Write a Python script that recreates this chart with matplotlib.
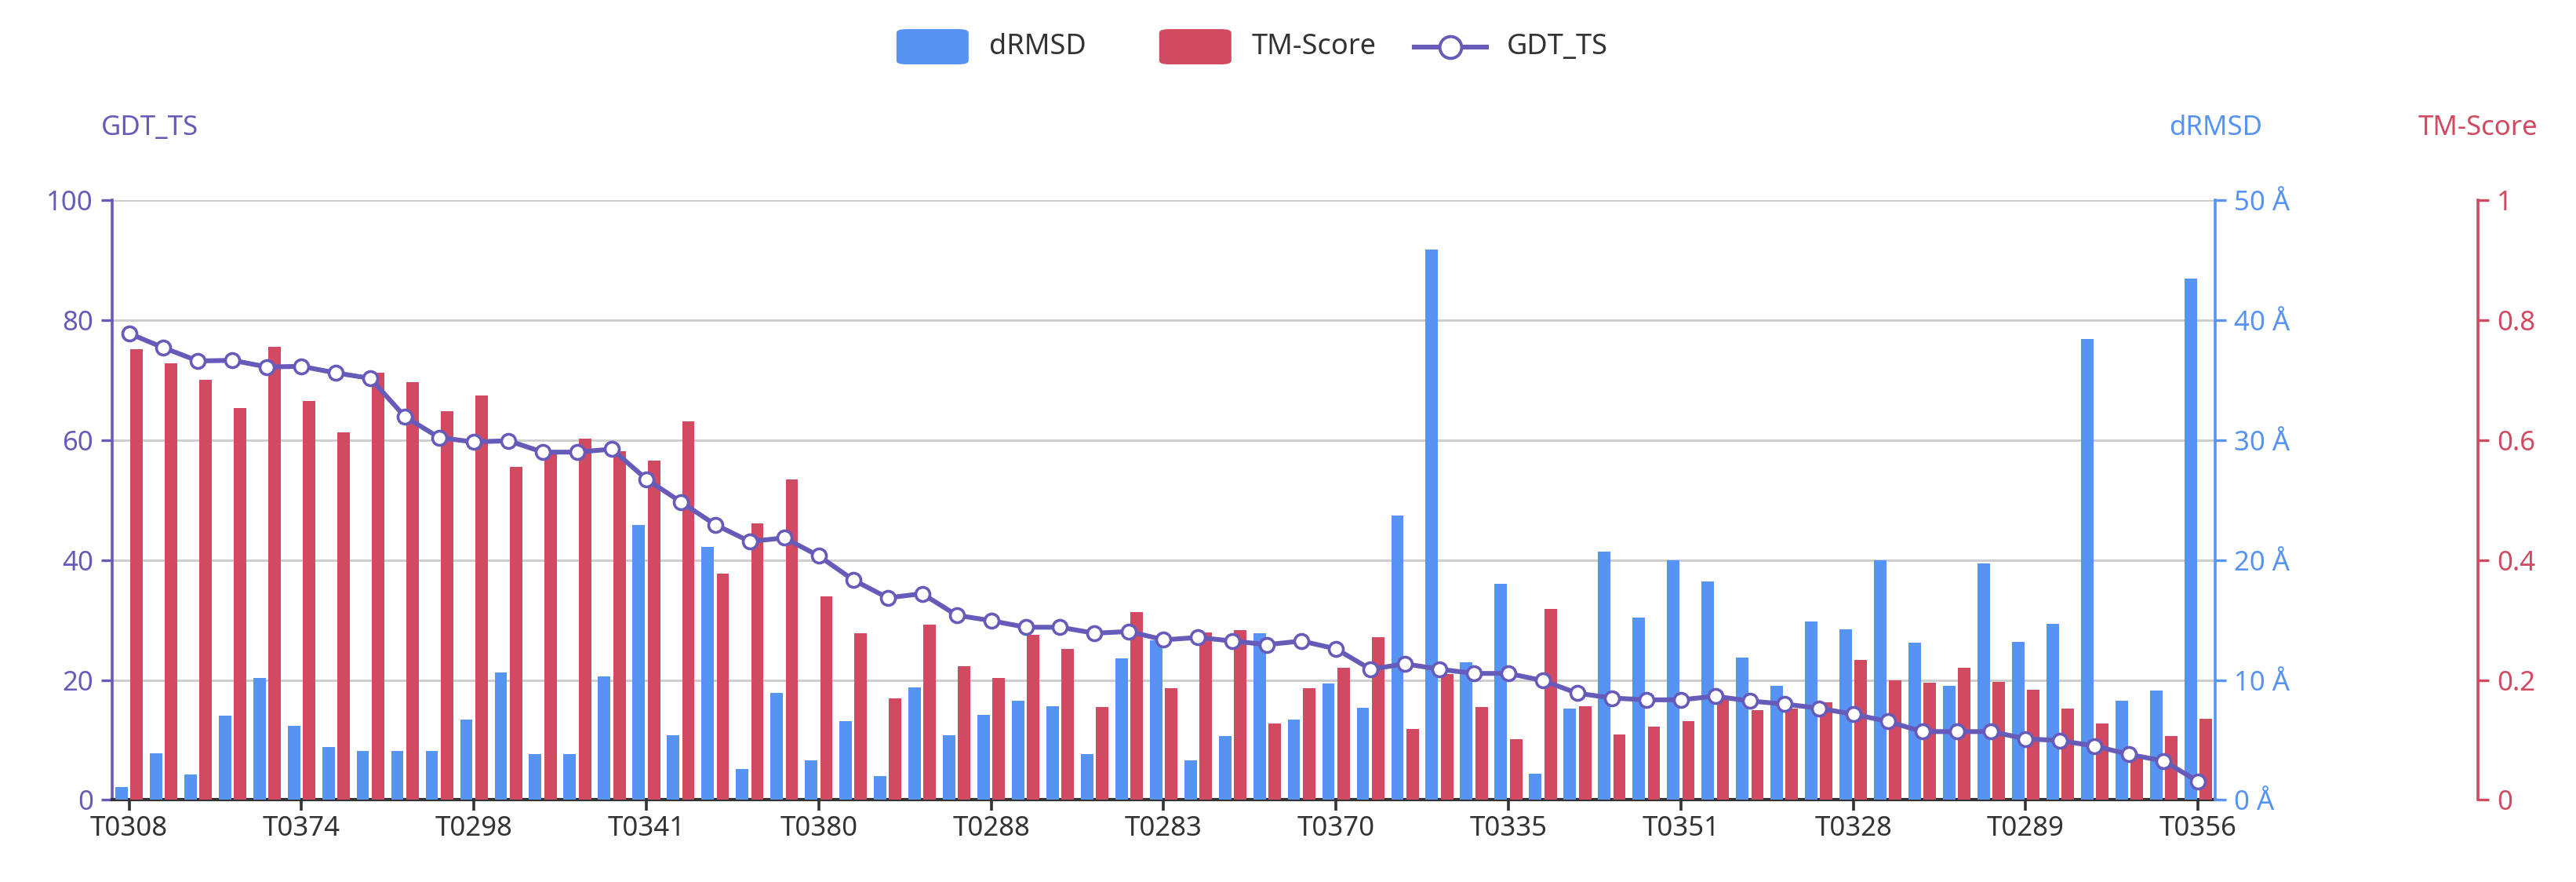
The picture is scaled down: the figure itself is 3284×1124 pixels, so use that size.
import matplotlib.pyplot as plt
import numpy as np
from matplotlib.patches import FancyBboxPatch
from matplotlib.lines import Line2D

plt.rcParams["font.family"] = ["Noto Sans", "DejaVu Sans"]

BLUE = "#5793f3"
RED = "#d14a61"
PURPLE = "#675bba"

shown_labels = ["T0308", "T0374", "T0298", "T0341", "T0380", "T0288", "T0283",
                "T0370", "T0335", "T0351", "T0328", "T0289", "T0356"]
targets = []
for i in range(61):
    targets.append(shown_labels[i // 5] if i % 5 == 0 else "")

drmsd = [1.05, 3.9, 2.1, 7.0, 10.2, 6.2, 4.4, 4.1, 4.1, 4.1, 6.7, 10.6, 3.8, 3.8, 10.3, 22.9,
         5.4, 21.1, 2.6, 8.9, 3.3, 6.6, 2.0, 9.4, 5.4, 7.1, 8.3, 7.8, 3.8, 11.8, 13.3,
         3.3, 5.3, 13.9, 6.7, 9.7, 7.7, 23.7, 45.9, 11.5, 18.0, 2.2, 7.6, 20.7, 15.2, 20.0,
         18.2, 11.9, 9.5, 14.9, 14.2, 20.0, 13.1, 9.5, 19.7, 13.2, 14.7, 38.4, 8.3, 9.1, 43.5]
tm_score = [0.752, 0.728, 0.701, 0.654, 0.755, 0.665, 0.613, 0.713, 0.697, 0.648, 0.675,
            0.555, 0.58, 0.603, 0.582, 0.566,
            0.631, 0.378, 0.461, 0.535, 0.340, 0.278, 0.170, 0.293, 0.223, 0.204, 0.276,
            0.252, 0.155, 0.313, 0.187,
            0.279, 0.283, 0.128, 0.186, 0.220, 0.271, 0.119, 0.210, 0.155, 0.101, 0.318,
            0.156, 0.109, 0.122, 0.131,
            0.169, 0.150, 0.152, 0.163, 0.233, 0.199, 0.196, 0.220, 0.197, 0.184, 0.153,
            0.128, 0.073, 0.106, 0.136]
gdt_ts = [77.8, 75.4, 73.2, 73.3, 72.2, 72.3, 71.2, 70.3, 63.9, 60.4, 59.7, 59.9, 58.0,
          58.0, 58.5, 53.5,
          49.7, 45.9, 43.1, 43.7, 40.7, 36.7, 33.7, 34.4, 30.8, 29.9, 28.8, 28.8, 27.8,
          28.1, 26.7,
          27.1, 26.5, 25.9, 26.5, 25.2, 21.8, 22.7, 21.8, 21.1, 21.1, 19.9, 17.8, 17.0,
          16.7, 16.7,
          17.3, 16.5, 16.0, 15.3, 14.3, 13.1, 11.4, 11.4, 11.4, 10.2, 9.9, 9.0, 7.6, 6.5, 3.1]

x = np.arange(len(targets))

fig = plt.figure(figsize=(16.42, 5.62), dpi=200)
ax = fig.add_axes([0.0434, 0.093, 0.8166, 0.68])
ax_d = ax.twinx()
ax_t = ax.twinx()
ax_t.spines["right"].set_position(("axes", 1.125))

# bars on the right axes, line on top
ax_d.bar(x - 0.22, drmsd, width=0.36, color=BLUE, zorder=2)
ax_t.bar(x + 0.22, tm_score, width=0.36, color=RED, zorder=2)
ax_line = ax.twinx()
ax_line.set_ylim(0, 100)
ax_line.axis("off")
ax_line.plot(x, gdt_ts, color=PURPLE, lw=2.2, marker="o", ms=6.5,
             markerfacecolor="white", markeredgecolor=PURPLE, markeredgewidth=1.3)

ax.set_xlim(-0.5, len(targets) - 0.5)
ax.set_ylim(0, 100)
ax.set_yticks(range(0, 101, 20))
ax.grid(axis="y", color="#cccccc", lw=1)
ax.set_axisbelow(True)
ax.set_xticks(x[::5])
ax.set_xticklabels(shown_labels, fontsize=12.5, color="#333333")
ax.tick_params(axis="x", length=5, width=1.3, color="#333333", pad=2)
ax.tick_params(axis="y", colors=PURPLE, labelsize=12.5, length=5, width=1.2)

ax_d.set_ylim(0, 50)
ax_d.set_yticks(range(0, 51, 10))
ax_d.set_yticklabels([f"{v} Å" for v in range(0, 51, 10)])
ax_d.tick_params(axis="y", colors=BLUE, labelsize=12.5, length=5, width=1.2)

ax_t.set_ylim(0, 1)
ax_t.set_yticks([0, 0.2, 0.4, 0.6, 0.8, 1])
ax_t.set_yticklabels(["0", "0.2", "0.4", "0.6", "0.8", "1"])
ax_t.tick_params(axis="y", colors=RED, labelsize=12.5, length=5, width=1.2)

for a in (ax, ax_d, ax_t, ax_line):
    a.spines["top"].set_visible(False)
ax.spines["right"].set_visible(False)
ax.spines["left"].set_color(PURPLE)
ax.spines["left"].set_linewidth(1.3)
ax.spines["bottom"].set_color("#333333")
ax.spines["bottom"].set_linewidth(1.5)
for a in (ax_d, ax_t):
    a.spines["left"].set_visible(False)
    a.spines["bottom"].set_visible(False)
ax_d.spines["right"].set_color(BLUE)
ax_d.spines["right"].set_linewidth(1.3)
ax_t.spines["right"].set_color(RED)
ax_t.spines["right"].set_linewidth(1.3)

# axis names
fig.text(0.058, 0.855, "GDT_TS", color=PURPLE, fontsize=12.5, ha="center", va="center")
fig.text(0.860, 0.855, "dRMSD", color=BLUE, fontsize=12.5, ha="center", va="center")
fig.text(0.962, 0.855, "TM-Score", color=RED, fontsize=12.5, ha="center", va="center")

# legend
ly = 0.947
for x0, col, name in [(0.348, BLUE, "dRMSD"), (0.450, RED, "TM-Score")]:
    fig.patches.append(FancyBboxPatch((x0, ly - 0.02), 0.028, 0.04,
                                      boxstyle="round,pad=0,rounding_size=0.004",
                                      transform=fig.transFigure, fc=col, ec="none"))
    fig.text(x0 + 0.036, ly, name, fontsize=13, color="#333333", va="center")
fig.lines.append(Line2D([0.549, 0.577], [ly, ly], transform=fig.transFigure,
                        color=PURPLE, lw=2.2))
fig.lines.append(Line2D([0.563], [ly], transform=fig.transFigure, marker="o", ms=10,
                        mfc="white", mec=PURPLE, mew=1.4))
fig.text(0.585, ly, "GDT_TS", fontsize=13, color="#333333", va="center")

fig.savefig("out.png", dpi=200)
